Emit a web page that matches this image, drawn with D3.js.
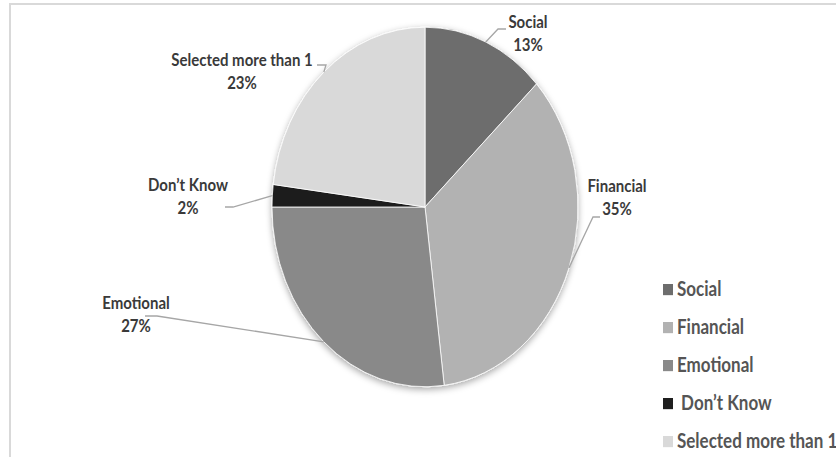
<!DOCTYPE html>
<html>
<head>
<meta charset="utf-8">
<script src="https://cdn.jsdelivr.net/npm/d3@7"></script>
<style>
  html, body { margin: 0; padding: 0; background: #fff; }
  svg { display: block; }
  text { font-family: Lato, "Open Sans", sans-serif; }
</style>
</head>
<body>
<script>
// Survey answers: kind of support, share of respondents (%)
const categories = ["Social", "Financial", "Emotional", "Don’t Know", "Selected more than 1"];
const values = [13, 35, 27, 2, 23];
const legendLabels = ["Social", "Financial", "Emotional", " Don’t Know", "Selected more than 1"];
const fills = ["#6d6d6d", "#b2b2b2", "#898989", "#1f1f1f", "#d9d9d9"];

const W = 836, H = 457;
const SY = 1.175;               // vertical stretch of the whole plot
const cx = 425, cy = 207 / SY, r = 153;

// label anchors (screen px): first-line baseline centre, and leader elbow points
const labelLayout = [
  { x: 528, y: 28,  elbow: [[506, 29], [498, 29]] },
  { x: 617, y: 192, elbow: [[600, 217], [593, 217]] },
  { x: 136, y: 309, elbow: [[145, 316], [157, 316]] },
  { x: 188, y: 191, elbow: [[225, 207], [233, 207]] },
  { x: 242, y: 66,  elbow: [[317, 65], [326, 65]] }
];

const svg = d3.select("body").append("svg")
  .attr("width", W).attr("height", H);

const defs = svg.append("defs");
const sh = defs.append("filter").attr("id", "shadow")
  .attr("x", "-20%").attr("y", "-20%").attr("width", "140%").attr("height", "140%");
sh.append("feDropShadow").attr("dx", 0).attr("dy", 2)
  .attr("stdDeviation", 3).attr("flood-color", "#000").attr("flood-opacity", 0.35);

// chart area frame
svg.append("path")
  .attr("d", `M10,${H} L10,4 L${W},4`)
  .attr("fill", "none").attr("stroke", "#d9d9d9").attr("stroke-width", 2);

const g = svg.append("g").attr("transform", `scale(1,${SY})`);

const pie = d3.pie().sort(null).value(d => d)(values);
const arc = d3.arc().innerRadius(0).outerRadius(r);

g.append("g")
  .attr("transform", `translate(${cx},${cy})`)
  .attr("filter", "url(#shadow)")
  .selectAll("path")
  .data(pie)
  .join("path")
  .attr("d", arc)
  .attr("fill", (d, i) => fills[i])
  .attr("stroke", "#ffffff")
  .attr("stroke-width", 0.8)
  .attr("vector-effect", "non-scaling-stroke");

// leader lines from the slice edge at its mid angle to the label
const edgePoint = d => {
  const a = (d.startAngle + d.endAngle) / 2;
  return [cx + r * Math.sin(a), (cy - r * Math.cos(a)) * SY];
};
svg.append("g").selectAll("path")
  .data(pie)
  .join("path")
  .attr("d", (d, i) => d3.line()([...labelLayout[i].elbow, edgePoint(d)]))
  .attr("fill", "none")
  .attr("stroke", "#a6a6a6")
  .attr("stroke-width", 1.3);

// data labels: category and percentage
const lab = g.append("g").selectAll("text")
  .data(pie)
  .join("text")
  .attr("text-anchor", "middle")
  .attr("font-size", 15)
  .attr("font-weight", 700)
  .attr("fill", "#3a3a3a");
lab.append("tspan")
  .attr("x", (d, i) => labelLayout[i].x)
  .attr("y", (d, i) => labelLayout[i].y / SY)
  .text((d, i) => categories[i]);
lab.append("tspan")
  .attr("x", (d, i) => labelLayout[i].x)
  .attr("y", (d, i) => (labelLayout[i].y + 23.5) / SY)
  .text(d => d.data + "%");

// legend
const legend = g.append("g").attr("transform", `translate(663,${284 / SY})`);
const rowH = 38 / SY;
const item = legend.selectAll("g")
  .data(legendLabels)
  .join("g")
  .attr("transform", (d, i) => `translate(0,${i * rowH})`);
item.append("rect")
  .attr("width", 10).attr("height", 9.5)
  .attr("fill", (d, i) => fills[i]);
item.append("text")
  .attr("x", 14).attr("y", 10.5)
  .attr("font-size", 17)
  .attr("font-weight", 700)
  .attr("fill", "#555555")
  .style("white-space", "pre")
  .text(d => d);
</script>
</body>
</html>
